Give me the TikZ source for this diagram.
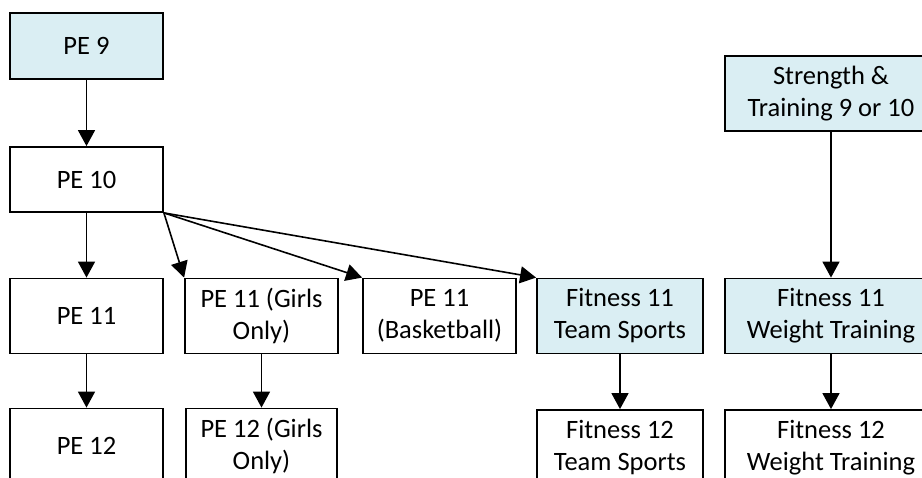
\documentclass[tikz,border=0pt]{standalone}
\usepackage{fontspec}
\setmainfont{Carlito}
\usetikzlibrary{arrows.meta}
\definecolor{boxblue}{HTML}{DAEEF3}
\begin{document}
\begin{tikzpicture}[x=1pt,y=-1pt,
  course/.style={draw=black, line width=1.8pt, fill=white, align=center,
    inner sep=0pt, minimum width=153pt, minimum height=75pt,
    font=\fontsize{26.5}{32}\selectfont},
  option/.style={course, fill=boxblue},
  link/.style={line width=1.6pt, -{Triangle[length=16pt,width=17pt]}}]
  \useasboundingbox (0,0) rectangle (922,478);
  \clip (0,0) rectangle (922,478);

  % physical education sequence
  \node[option, minimum height=66pt] (pe9) at (86.5,46) {PE 9};
  \node[course, minimum height=65pt] (pe10) at (86.5,179.5) {PE 10};
  \node[course] (pe11) at (86.5,316) {PE 11};
  \node[course] (pe11g) at (261.5,316) {PE 11 (Girls\\Only)};
  \node[course] (pe11b) at (439.5,316) {PE 11\\(Basketball)};
  \node[course] (pe12) at (86.5,446) {PE 12};
  \node[course, minimum width=151pt] (pe12g) at (261.5,446) {PE 12 (Girls\\Only)};

  % fitness sequences
  \node[option, minimum width=166pt] (fit11t) at (620,316) {Fitness 11\\Team Sports};
  \node[course, minimum width=166pt] (fit12t) at (620,447.5) {Fitness 12\\Team Sports};
  \node[option, minimum width=212pt] (str) at (831,93.5) {Strength \&\\Training 9 or 10};
  \node[option, minimum width=212pt] (fit11w) at (831,316) {Fitness 11\\Weight Training};
  \node[course, minimum width=212pt] (fit12w) at (831,447.5) {Fitness 12\\Weight Training};

  % prerequisites
  \draw[link] (pe9) -- (pe10);
  \draw[link] (pe10) -- (pe11);
  \draw[link] (pe10.south east) -- (pe11g.north west);
  \draw[link] (pe10.south east) -- (pe11b.north west);
  \draw[link] (pe10.south east) -- (fit11t.north west);
  \draw[link] (pe11) -- (pe12);
  \draw[link] (pe11g) -- (pe12g);
  \draw[link] (fit11t) -- (fit12t);
  \draw[link] (str) -- (fit11w);
  \draw[link] (fit11w) -- (fit12w);
\end{tikzpicture}
\end{document}
